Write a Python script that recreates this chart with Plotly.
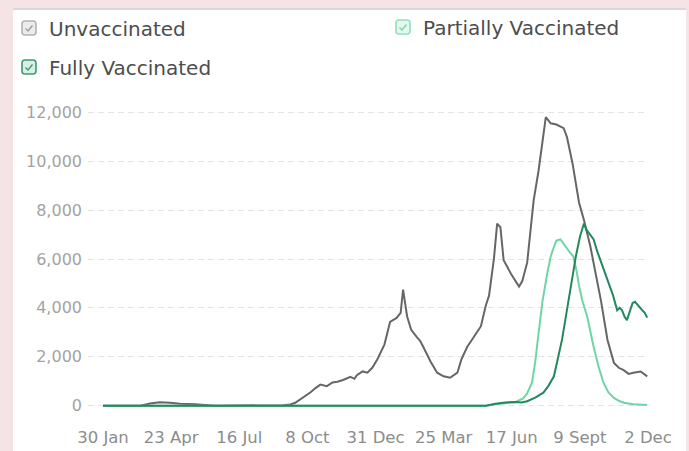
import plotly.graph_objects as go

# ---------------- data ----------------
unvax_dates = [
    "2020-01-30", "2020-03-16", "2020-03-28", "2020-04-09", "2020-04-22", "2020-05-04",
    "2020-05-23", "2020-06-08", "2020-06-16", "2020-09-08", "2020-09-17", "2020-09-23",
    "2020-09-29", "2020-10-05", "2020-10-12", "2020-10-18", "2020-10-24", "2020-11-01",
    "2020-11-08", "2020-11-14", "2020-11-21", "2020-11-30", "2020-12-05", "2020-12-08",
    "2020-12-15", "2020-12-21", "2020-12-27", "2021-01-02", "2021-01-11", "2021-01-18",
    "2021-01-26", "2021-01-31", "2021-02-03", "2021-02-08", "2021-02-13", "2021-02-20",
    "2021-02-24", "2021-02-28", "2021-03-09", "2021-03-17", "2021-03-25", "2021-04-02",
    "2021-04-11", "2021-04-16", "2021-04-23", "2021-05-01", "2021-05-10", "2021-05-16",
    "2021-05-20", "2021-05-22", "2021-05-26", "2021-05-30", "2021-06-03", "2021-06-07",
    "2021-06-16", "2021-06-26", "2021-06-30", "2021-07-06", "2021-07-10", "2021-07-14",
    "2021-07-20", "2021-07-24", "2021-07-29", "2021-08-04", "2021-08-11", "2021-08-20",
    "2021-08-24", "2021-08-31", "2021-09-08", "2021-09-14", "2021-09-22", "2021-10-05",
    "2021-10-13", "2021-10-21", "2021-10-27", "2021-11-02", "2021-11-08", "2021-11-14",
    "2021-11-23", "2021-12-01",
]
unvax_values = [
    0, 0, 90, 140, 120, 80,
    60, 20, 0, 20, 50, 120,
    250, 400, 550, 720, 860, 800,
    950, 980, 1050, 1180, 1100, 1250,
    1400, 1350, 1550, 1880, 2500, 3430,
    3590, 3800, 4750, 3650, 3100, 2800,
    2650, 2400, 1800, 1350, 1200, 1140,
    1350, 1900, 2400, 2800, 3250, 4100,
    4500, 5000, 6000, 7450, 7300, 5950,
    5400, 4870, 5100, 5850, 7000, 8400,
    9600, 10500, 11800, 11550, 11500, 11350,
    11000, 9900, 8300, 7600, 6500, 4300,
    2700, 1750, 1550, 1450, 1300, 1350,
    1400, 1200,
]

partial_dates = [
    "2020-01-30", "2021-05-16", "2021-05-28", "2021-06-09", "2021-06-22", "2021-07-01",
    "2021-07-06", "2021-07-12", "2021-07-16", "2021-07-20", "2021-07-25", "2021-07-31",
    "2021-08-04", "2021-08-08", "2021-08-11", "2021-08-16", "2021-08-22", "2021-08-27",
    "2021-09-01", "2021-09-05", "2021-09-08", "2021-09-12", "2021-09-18", "2021-09-22",
    "2021-09-26", "2021-10-02", "2021-10-08", "2021-10-14", "2021-10-21", "2021-10-27",
    "2021-11-02", "2021-11-14", "2021-12-01",
]
partial_values = [
    0, 0, 60, 100, 150, 300,
    500, 950, 1800, 2950, 4300, 5450,
    6100, 6500, 6750, 6800, 6500, 6300,
    6100, 5500, 4900, 4300, 3650, 3000,
    2400, 1600, 950, 550, 320, 200,
    120, 60, 30,
]

full_dates = [
    "2020-01-30", "2021-05-16", "2021-05-28", "2021-06-09", "2021-06-22", "2021-06-29",
    "2021-07-06", "2021-07-16", "2021-07-26", "2021-08-01", "2021-08-08", "2021-08-12",
    "2021-08-18", "2021-08-22", "2021-08-26", "2021-08-31", "2021-09-04", "2021-09-09",
    "2021-09-14", "2021-09-17", "2021-09-20", "2021-09-26", "2021-09-30", "2021-10-06",
    "2021-10-13", "2021-10-20", "2021-10-25", "2021-10-28", "2021-10-31", "2021-11-03",
    "2021-11-06", "2021-11-09", "2021-11-13", "2021-11-16", "2021-11-19", "2021-11-22",
    "2021-11-25", "2021-11-28", "2021-12-01",
]
full_values = [
    0, 0, 80, 130, 150, 130,
    180, 330, 530, 800, 1200, 1800,
    2700, 3500, 4350, 5300, 6100, 6900,
    7450, 7200, 7050, 6800, 6350, 5800,
    5150, 4500, 3900, 4000, 3900, 3650,
    3500, 3800, 4200, 4250, 4120, 4000,
    3900, 3800, 3600,
]

x_tick_dates = ["2020-01-30", "2020-04-23", "2020-07-16", "2020-10-08", "2020-12-31",
                "2021-03-25", "2021-06-17", "2021-09-09", "2021-12-02"]
x_tick_labels = ["30 Jan", "23 Apr", "16 Jul", "8 Oct", "31 Dec",
                 "25 Mar", "17 Jun", "9 Sept", "2 Dec"]
y_tick_values = [0, 2000, 4000, 6000, 8000, 10000, 12000]
y_tick_labels = ["0", "2,000", "4,000", "6,000", "8,000", "10,000", "12,000"]

series_names = ["Unvaccinated", "Partially Vaccinated", "Fully Vaccinated"]
series_colors = ["#666666", "#6fd5a5", "#23885d"]

# ---------------- layout geometry ----------------
W, H = 689, 451
L, R, T, B = 88, 41, 105, 38
PW, PH = W - L - R, H - T - B
FONT = "DejaVu Sans"


def fx(x):
    return (x - L) / PW


def fy(y):
    return (H - B - y) / PH


fig = go.Figure()
for d, v, name, col in zip([unvax_dates, partial_dates, full_dates],
                           [unvax_values, partial_values, full_values],
                           series_names, series_colors):
    fig.add_trace(go.Scatter(x=d, y=v, mode="lines", name=name,
                             line=dict(color=col, width=2), hoverinfo="skip"))

shapes = []
# white card on pink background
shapes.append(dict(type="rect", xref="paper", yref="paper", layer="below",
                   x0=fx(13), x1=fx(686), y0=fy(452), y1=fy(9),
                   fillcolor="white", line=dict(width=0)))
shapes.append(dict(type="line", xref="paper", yref="paper", layer="below",
                   x0=fx(13), x1=fx(686), y0=fy(9), y1=fy(9),
                   line=dict(color="#d9d9d9", width=2)))


def rounded_box(cx, cy, s, r):
    x0, x1, y0, y1 = cx - s / 2, cx + s / 2, cy - s / 2, cy + s / 2
    pts = [
        f"M {fx(x0 + r)},{fy(y0)}",
        f"L {fx(x1 - r)},{fy(y0)}",
        f"Q {fx(x1)},{fy(y0)} {fx(x1)},{fy(y0 + r)}",
        f"L {fx(x1)},{fy(y1 - r)}",
        f"Q {fx(x1)},{fy(y1)} {fx(x1 - r)},{fy(y1)}",
        f"L {fx(x0 + r)},{fy(y1)}",
        f"Q {fx(x0)},{fy(y1)} {fx(x0)},{fy(y1 - r)}",
        f"L {fx(x0)},{fy(y0 + r)}",
        f"Q {fx(x0)},{fy(y0)} {fx(x0 + r)},{fy(y0)} Z",
    ]
    return " ".join(pts)


legend_items = [
    # (cx, cy, text_x, border, fill, check)
    (29, 28, 47, "#b3b3b3", "#ececec", "#9c9c9c"),
    (403, 27, 421, "#93dfbd", "#e4f8ee", "#7fd3ad"),
    (29, 67, 47, "#3f9a74", "#d8f0e4", "#3f9a74"),
]
annotations = []
for name, (cx, cy, tx, bc, fc, cc) in zip(series_names, legend_items):
    shapes.append(dict(type="path", xref="paper", yref="paper",
                       path=rounded_box(cx, cy, 14, 3),
                       fillcolor=fc, line=dict(color=bc, width=1.6)))
    shapes.append(dict(type="path", xref="paper", yref="paper",
                       path=f"M {fx(cx-3.5)},{fy(cy+0.5)} L {fx(cx-1)},{fy(cy+3)} L {fx(cx+3.5)},{fy(cy-2.5)}",
                       line=dict(color=cc, width=1.4)))
    annotations.append(dict(text=name, xref="paper", yref="paper",
                            x=fx(tx), y=fy(cy + 1), xanchor="left", yanchor="middle",
                            showarrow=False,
                            font=dict(family=FONT, size=20, color="#4d4d4d")))

fig.update_layout(
    width=W, height=H,
    margin=dict(l=L, r=R, t=T, b=B, pad=0),
    paper_bgcolor="#f5e4e6",
    plot_bgcolor="white",
    showlegend=False,
    shapes=shapes,
    annotations=annotations,
    xaxis=dict(type="date", range=["2020-01-11 12:00", "2021-12-02"],
               tickmode="array", tickvals=x_tick_dates, ticktext=x_tick_labels,
               showgrid=False, zeroline=False, showline=False, ticks="",
               ticklabelstandoff=12, automargin=False,
               tickfont=dict(family=FONT, size=16.5, color="#8c8c8c"),
               fixedrange=True),
    yaxis=dict(range=[-300, 12300], tickmode="array",
               tickvals=y_tick_values, ticktext=y_tick_labels,
               showgrid=True, gridcolor="#e4e4e4", gridwidth=1, griddash="6px,4px",
               zeroline=False, showline=False, ticks="",
               ticklabelstandoff=5, automargin=False,
               tickfont=dict(family=FONT, size=16, color="#a3a3a3"),
               fixedrange=True),
)

fig.write_html(
    "out.html",
    config={"displayModeBar": False},
    post_script="document.body.style.margin='0';document.body.style.overflow='hidden';",
)
